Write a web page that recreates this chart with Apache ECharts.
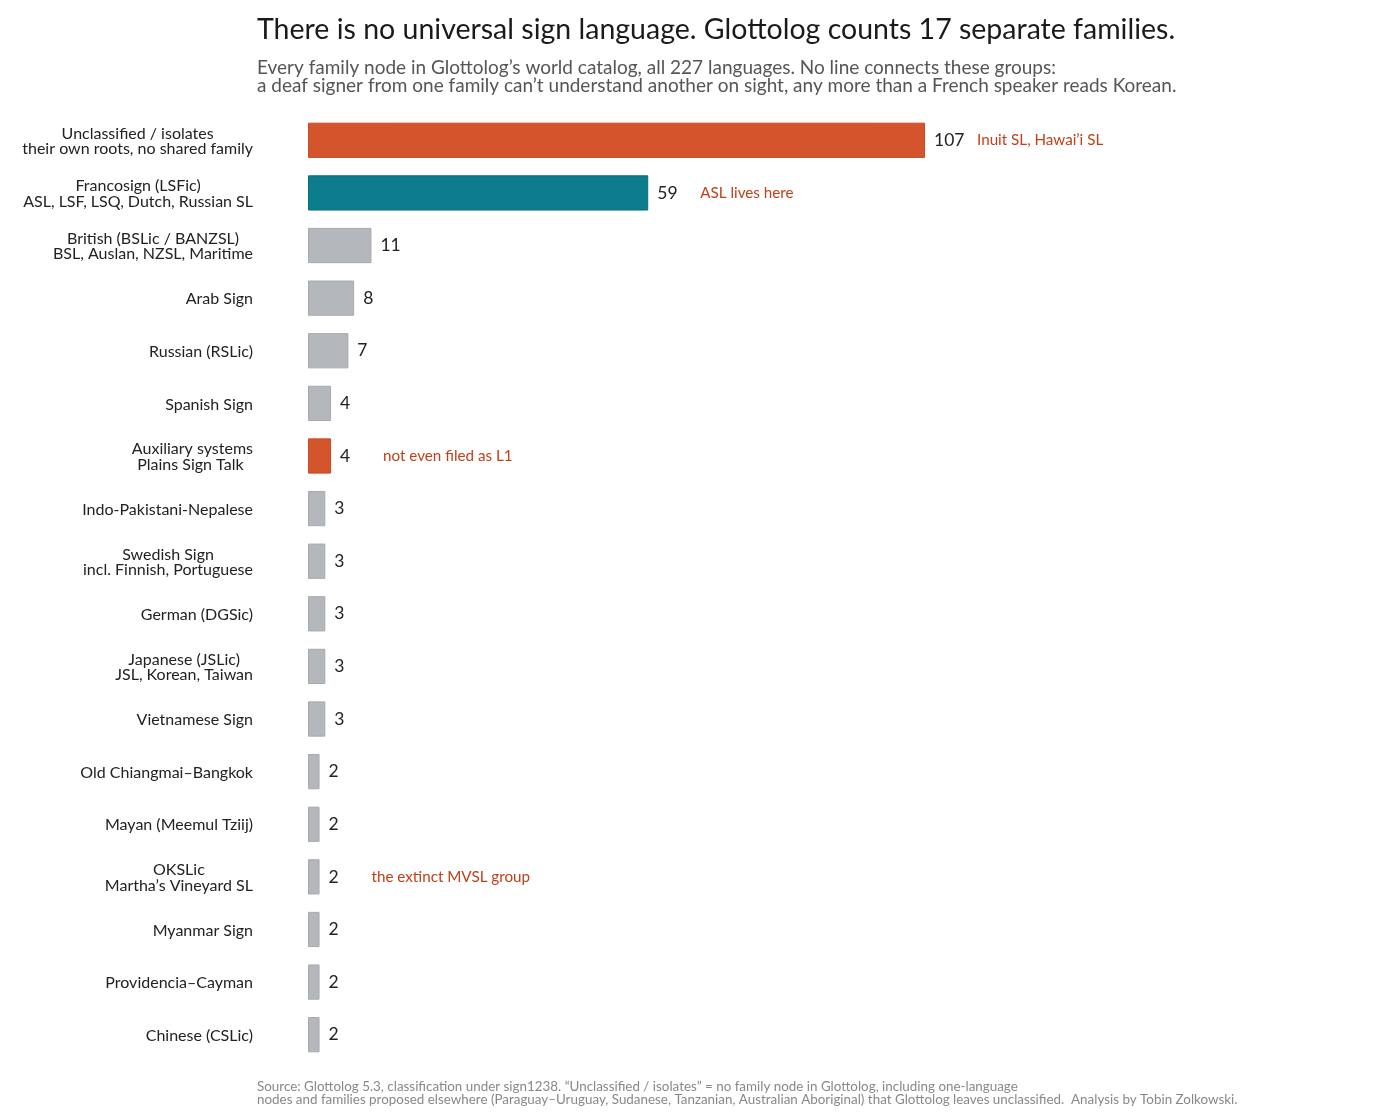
<!DOCTYPE html>
<html>
<head>
<meta charset="utf-8">
<script src="https://cdn.jsdelivr.net/npm/echarts@6/dist/echarts.min.js"></script>
<style>
  html, body { margin: 0; padding: 0; background: #fff; }
  #chart { width: 1400px; height: 1120px; }
</style>
</head>
<body>
<div id="chart"></div>
<script>
// families, top to bottom
var families = [
  ['Unclassified / isolates', 'their own roots, no shared family'],
  ['Francosign (LSFic)', 'ASL, LSF, LSQ, Dutch, Russian SL'],
  ['British (BSLic / BANZSL)', 'BSL, Auslan, NZSL, Maritime'],
  ['Arab Sign'],
  ['Russian (RSLic)'],
  ['Spanish Sign'],
  ['Auxiliary systems', 'Plains Sign Talk '],
  ['Indo-Pakistani-Nepalese'],
  ['Swedish Sign', 'incl. Finnish, Portuguese'],
  ['German (DGSic)'],
  ['Japanese (JSLic)', 'JSL, Korean, Taiwan'],
  ['Vietnamese Sign'],
  ['Old Chiangmai\u2013Bangkok'],
  ['Mayan (Meemul Tziij)'],
  ['OKSLic', 'Martha\u2019s Vineyard SL'],
  ['Myanmar Sign'],
  ['Providencia\u2013Cayman'],
  ['Chinese (CSLic)']
];
var counts = [107, 59, 11, 8, 7, 4, 4, 3, 3, 3, 3, 3, 2, 2, 2, 2, 2, 2];
var kinds = ['hot', 'asl', 'base', 'base', 'base', 'base', 'hot', 'base', 'base', 'base',
             'base', 'base', 'base', 'base', 'base', 'base', 'base', 'base'];
var notes = ['Inuit SL, Hawai\u2019i SL', 'ASL lives here', '', '', '', '', 'not even filed as L1',
             '', '', '', '', '', '', '', 'the extinct MVSL group', '', '', ''];

var FONT = 'Lato, "Noto Sans", sans-serif';
var fills = { hot: '#d4552b', asl: '#0c7d8c', base: '#b4b7bc' };
var edges = { hot: '#c84a20', asl: '#0a6e7c', base: '#a6a9ae' };

var cats = families.map(function (f) { return f.join('\n'); });

var bars = counts.map(function (v, i) {
  return {
    value: v,
    itemStyle: { color: fills[kinds[i]], borderColor: edges[kinds[i]], borderWidth: 1 }
  };
});

var chart = echarts.init(document.getElementById('chart'));
chart.setOption({
  backgroundColor: '#fff',
  animation: false,
  title: [{
    text: 'There is no universal sign language. Glottolog counts 17 separate families.',
    left: 252, top: 10,
    textStyle: { fontFamily: FONT, fontSize: 28.5, fontWeight: 'normal', color: '#1a1a1a' }
  }, {
    text: 'Every family node in Glottolog\u2019s world catalog, all 227 languages. No line connects these groups:\n' +
          'a deaf signer from one family can\u2019t understand another on sight, any more than a French speaker reads Korean.',
    left: 252, top: 54,
    textStyle: { fontFamily: FONT, fontSize: 19, fontWeight: 'normal', color: '#555', lineHeight: 18 }
  }, {
    text: 'Source: Glottolog 5.3, classification under sign1238. \u201cUnclassified / isolates\u201d = no family node in Glottolog, including one-language\n' +
          'nodes and families proposed elsewhere (Paraguay\u2013Uruguay, Sudanese, Tanzanian, Australian Aboriginal) that Glottolog leaves unclassified.  Analysis by Tobin Zolkowski.',
    left: 252, top: 1075,
    textStyle: { fontFamily: FONT, fontSize: 13.4, fontWeight: 'normal', color: '#888', lineHeight: 13 }
  }],
  grid: { left: 308, top: 114, width: 865, height: 947, containLabel: false },
  xAxis: {
    type: 'value', min: 0, max: 150,
    show: false
  },
  yAxis: {
    type: 'category', inverse: true, data: cats,
    axisLine: { show: false }, axisTick: { show: false },
    axisLabel: {
      margin: 55,
      formatter: function (val) {
        return val.split('\n').map(function (s) { return '{c|' + s + '}'; }).join('\n');
      },
      rich: { c: { align: 'center', fontFamily: FONT, fontSize: 16, color: '#222', lineHeight: 15.5, padding: [2, 0, 0, 0] } }
    }
  },
  series: [{
    type: 'bar',
    data: bars,
    barCategoryGap: '33%',
    label: {
      show: true, position: 'right', distance: 9,
      formatter: function (p) {
        var n = notes[p.dataIndex];
        return '{v|' + p.value + '}' + (n ? '{a|' + n + '}' : '');
      },
      rich: {
        v: { width: 43, fontFamily: FONT, fontSize: 17.5, color: '#222' },
        a: { fontFamily: FONT, fontSize: 15.2, color: '#c0401a' }
      }
    }
  }]
});
</script>
</body>
</html>
